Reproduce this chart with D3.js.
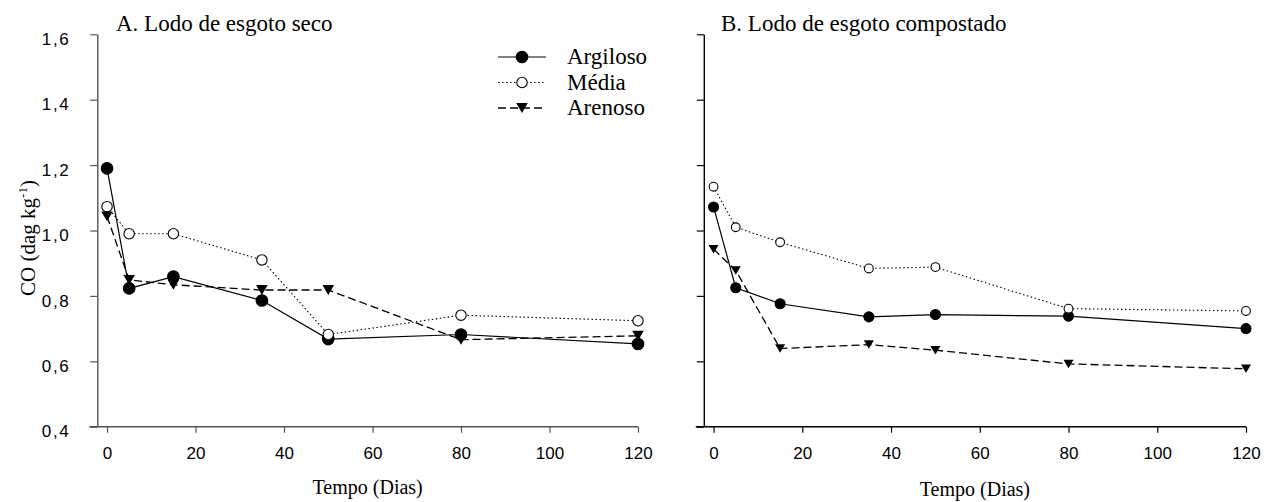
<!DOCTYPE html>
<html>
<head>
<meta charset="utf-8">
<script src="https://cdn.jsdelivr.net/npm/d3@7"></script>
<style>
  html, body { margin: 0; padding: 0; background: #fff; }
  svg { display: block; }
  .tick text { font-family: Arial, "Liberation Sans", sans-serif; font-size: 17px; fill: #000; }
  .serif { font-family: "Liberation Serif", "Times New Roman", serif; fill: #000; }
</style>
</head>
<body>
<svg id="chart" width="1268" height="502"></svg>
<script>
// ─── data ────────────────────────────────────────────────────────────────────
var days = [0, 5, 15, 35, 50, 80, 120];
var seriesNames = ['Argiloso', 'Média', 'Arenoso'];
var panelTitles = ['A. Lodo de esgoto seco', 'B. Lodo de esgoto compostado'];
var yTicks = [0.4, 0.6, 0.8, 1.0, 1.2, 1.4, 1.6];
var xTicks = [0, 20, 40, 60, 80, 100, 120];

// A. dried sludge
var secoArgiloso = [1.19, 0.823, 0.859, 0.786, 0.668, 0.682, 0.653];
var secoMedia    = [1.073, 0.99, 0.99, 0.91, 0.682, 0.741, 0.724];
var secoArenoso  = [1.043, 0.849, 0.834, 0.818, 0.818, 0.666, 0.678];

// B. composted sludge
var compArgiloso = [1.072, 0.825, 0.776, 0.736, 0.743, 0.738, 0.70];
var compMedia    = [1.134, 1.01, 0.964, 0.884, 0.888, 0.761, 0.754];
var compArenoso  = [0.943, 0.878, 0.639, 0.651, 0.634, 0.592, 0.577];

// ─── styles per series ───────────────────────────────────────────────────────
var styles = {
  'Argiloso': { dash: null,      width: 1.2, marker: 'filled' },
  'Média':    { dash: '1.5,2.5', width: 1.1, marker: 'open' },
  'Arenoso':  { dash: '8,4',     width: 1.3, marker: 'triangle' }
};

var svg = d3.select('#chart');

var y = d3.scaleLinear().domain([0.4, 1.6]).range([426.7, 34.3]);
var fmt = function (d) { return d3.format('.1f')(d).replace('.', ','); };

// down-pointing triangle, filled circle or open circle centred on (cx, cy)
function drawMarker(g, kind, cx, cy, r) {
  if (kind === 'triangle') {
    var w = r, h = r * 0.85;
    g.append('path')
      .attr('d', 'M' + (cx - w) + ',' + (cy - h) + 'L' + (cx + w) + ',' + (cy - h) +
        'L' + cx + ',' + (cy + h) + 'Z')
      .attr('fill', '#000');
    return;
  }
  g.append('circle')
    .attr('cx', cx).attr('cy', cy)
    .attr('r', kind === 'open' ? r - 0.6 : r)
    .attr('fill', kind === 'open' ? '#fff' : '#000')
    .attr('stroke', '#000')
    .attr('stroke-width', 1.1);
}

function drawPanel(opts) {
  var x = d3.scaleLinear().domain([-2.2, 120]).range([opts.left, opts.right]);
  var g = svg.append('g');

  // x axis
  var xa = g.append('g')
    .attr('transform', 'translate(0,' + y(0.4) + ')')
    .call(d3.axisBottom(x).tickValues(xTicks).tickSize(6).tickSizeOuter(0).tickPadding(14));
  xa.select('.domain')
    .attr('d', 'M' + (opts.left - 8) + ',0H' + x(120))
    .attr('stroke', opts.axisColor).attr('stroke-width', 1.4);
  xa.selectAll('.tick line').attr('stroke', opts.axisColor).attr('stroke-width', 1.2);

  // y axis
  var ya = g.append('g')
    .attr('transform', 'translate(' + opts.left + ',0)')
    .call(d3.axisLeft(y).tickValues(yTicks).tickSize(7).tickSizeOuter(0)
      .tickPadding(20).tickFormat(opts.yLabels ? fmt : ''));
  ya.select('.domain').attr('stroke', opts.axisColor).attr('stroke-width', 1.4);
  ya.selectAll('.tick line').attr('stroke', opts.axisColor).attr('stroke-width', 1.2);
  ya.selectAll('.tick text').attr('letter-spacing', '1.6px').attr('dy', '0.6em');

  // title
  g.append('text').attr('class', 'serif')
    .attr('x', opts.titleX).attr('y', 31)
    .style('font-size', '23px')
    .text(opts.title);

  // x label
  g.append('text').attr('class', 'serif')
    .attr('x', (opts.left + x(120)) / 2).attr('y', opts.xLabelY)
    .attr('text-anchor', 'middle')
    .style('font-size', '20px')
    .text('Tempo (Dias)');

  // lines first, markers on top
  var line = d3.line().x(function (d) { return x(d[0]); }).y(function (d) { return y(d[1]); });
  opts.series.forEach(function (s) {
    var st = styles[s.name];
    var pts = days.map(function (d, i) { return [d, s.values[i]]; });
    g.append('path').datum(pts)
      .attr('d', line)
      .attr('fill', 'none')
      .attr('stroke', '#000')
      .attr('stroke-width', st.width)
      .attr('stroke-dasharray', st.dash);
  });
  opts.series.forEach(function (s) {
    var st = styles[s.name];
    days.forEach(function (d, i) {
      drawMarker(g, st.marker, x(d), y(s.values[i]), opts.markerR);
    });
  });
}

drawPanel({
  left: 97.3, right: 638, axisColor: '#555', yLabels: true,
  title: panelTitles[0], titleX: 116, xLabelY: 494, markerR: 5.8,
  series: [
    { name: 'Argiloso', values: secoArgiloso },
    { name: 'Média', values: secoMedia },
    { name: 'Arenoso', values: secoArenoso }
  ]
});

drawPanel({
  left: 703.8, right: 1246, axisColor: '#000', yLabels: false,
  title: panelTitles[1], titleX: 721, xLabelY: 496, markerR: 5,
  series: [
    { name: 'Argiloso', values: compArgiloso },
    { name: 'Média', values: compMedia },
    { name: 'Arenoso', values: compArenoso }
  ]
});

// y axis label
var yl = svg.append('text').attr('class', 'serif')
  .attr('transform', 'translate(35,238) rotate(-90)')
  .attr('text-anchor', 'middle')
  .style('font-size', '21px');
yl.append('tspan').text('CO (dag kg');
yl.append('tspan').attr('dy', -8).style('font-size', '13px').text('-1');
yl.append('tspan').attr('dy', 8).text(')');

// legend
var legend = svg.append('g');
seriesNames.forEach(function (name, i) {
  var st = styles[name];
  var ly = 57 + i * 25.5;
  legend.append('line')
    .attr('x1', 498).attr('x2', 546).attr('y1', ly).attr('y2', ly)
    .attr('stroke', '#000').attr('stroke-width', st.width)
    .attr('stroke-dasharray', st.dash);
  drawMarker(legend, st.marker, 522, ly, 5.8);
  legend.append('text').attr('class', 'serif')
    .attr('x', 567).attr('y', ly + 7)
    .style('font-size', '23px')
    .text(name);
});
</script>
</body>
</html>
